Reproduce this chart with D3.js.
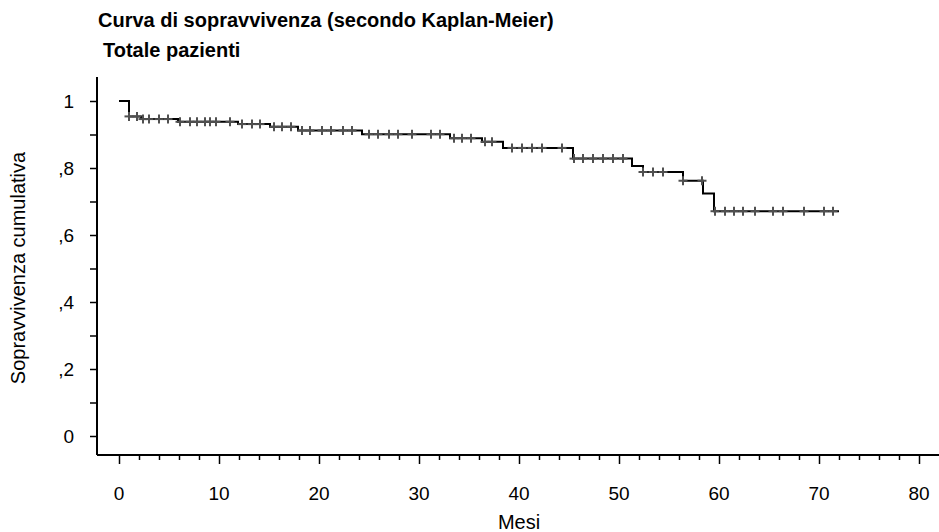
<html>
<head>
<meta charset="utf-8">
<title>Curva di sopravvivenza</title>
<style>
  body { margin: 0; background: #fff; }
  text { font-family: "Liberation Sans", Arial, sans-serif; fill: #000; }
</style>
</head>
<body>
<script src="https://cdn.jsdelivr.net/npm/d3@7/dist/d3.min.js"></script>
<script>
    // tempi degli eventi (mesi) e sopravvivenza dopo ogni evento
    var stepTimes = [0, 1.0, 2.2, 5.9, 11.9, 15.1, 17.9, 24.3, 33.1, 36.3, 38.4, 45.4, 51.3, 52.4, 56.4, 58.4, 59.5, 72.0];
    var stepSurv  = [1, 0.954, 0.946, 0.938, 0.931, 0.923, 0.912, 0.901, 0.889, 0.878, 0.860, 0.828, 0.806, 0.788, 0.762, 0.724, 0.671, 0.671];
    // casi censurati (mesi)
    var censorTimes = [1.0, 1.8, 2.4, 3.0, 4.0, 4.9, 6.1, 7.1, 7.8, 8.6, 9.1, 9.7, 11.1, 12.3, 13.3, 14.1,
        15.5, 16.3, 17.2, 18.3, 19.1, 20.3, 21.2, 22.4, 23.3, 25.0, 25.9, 27.0, 27.9, 29.3, 31.2, 32.1,
        33.5, 34.3, 35.2, 36.6, 37.3, 39.3, 40.3, 41.3, 42.3, 44.3, 45.5, 46.4, 47.4, 48.4, 49.4, 50.4,
        52.4, 53.4, 54.4, 56.4, 58.3, 59.6, 60.6, 61.5, 62.4, 63.6, 65.4, 66.4, 68.5, 70.5, 71.4];
    var xTicks = [0, 10, 20, 30, 40, 50, 60, 70, 80];
    var yTicks = [0, 0.2, 0.4, 0.6, 0.8, 1];
    var yTickLabels = ["0", ",2", ",4", ",6", ",8", "1"];

    var width = 939, height = 532;
    var svg = d3.select('body').append('svg')
        .attr('width', width).attr('height', height);

    var xScale = d3.scaleLinear().domain([0, 80]).range([119, 919]);
    var yScale = d3.scaleLinear().domain([0, 1]).range([436, 101]);
    var axisX = 97, axisY = 455;

    // titoli
    svg.append('text').attr('x', 98).attr('y', 27)
        .style('font-size', '20px').style('font-weight', 'bold')
        .text('Curva di sopravvivenza (secondo Kaplan-Meier)');
    svg.append('text').attr('x', 103).attr('y', 57)
        .style('font-size', '20px').style('font-weight', 'bold')
        .text('Totale pazienti');

    // asse y
    var yAxis = d3.axisLeft(yScale)
        .tickValues(d3.range(0, 1.01, 0.1))
        .tickSize(0)
        .tickFormat('');
    var gy = svg.append('g').attr('transform', 'translate(' + axisX + ',0)').call(yAxis);
    gy.select('.domain').remove();
    gy.selectAll('.tick line').attr('x2', -7).attr('stroke', '#000').attr('stroke-width', 1.5);
    svg.append('line').attr('x1', axisX).attr('x2', axisX)
        .attr('y1', 77).attr('y2', axisY).attr('stroke', '#000').attr('stroke-width', 2);
    svg.selectAll('.ylab').data(yTicks).enter().append('text')
        .attr('class', 'ylab')
        .attr('x', 74).attr('y', function(d) { return yScale(d) + 7; })
        .attr('text-anchor', 'end')
        .style('font-size', '19px')
        .text(function(d, i) { return yTickLabels[i]; });

    // asse x
    var xAxis = d3.axisBottom(xScale)
        .tickValues(d3.range(0, 80.1, 2))
        .tickSize(0)
        .tickFormat('');
    var gx = svg.append('g').attr('transform', 'translate(0,' + axisY + ')').call(xAxis);
    gx.select('.domain').remove();
    gx.selectAll('.tick line')
        .attr('y2', function(d) { return d % 10 === 0 ? 9 : 5; })
        .attr('stroke', '#000').attr('stroke-width', 1.5);
    svg.append('line').attr('x1', axisX).attr('x2', width)
        .attr('y1', axisY).attr('y2', axisY).attr('stroke', '#000').attr('stroke-width', 2);
    svg.selectAll('.xlab').data(xTicks).enter().append('text')
        .attr('class', 'xlab')
        .attr('x', function(d) { return xScale(d); }).attr('y', 500)
        .attr('text-anchor', 'middle')
        .style('font-size', '19px')
        .text(function(d) { return d; });

    // etichette assi
    svg.append('text').attr('x', 519).attr('y', 529)
        .attr('text-anchor', 'middle').style('font-size', '20px').text('Mesi');
    svg.append('text')
        .attr('transform', 'translate(25,268) rotate(-90)')
        .attr('text-anchor', 'middle').style('font-size', '20px')
        .text('Sopravvivenza cumulativa');

    // curva
    var points = stepTimes.map(function(t, i) { return [t, stepSurv[i]]; });
    var line = d3.line()
        .x(function(d) { return xScale(d[0]); })
        .y(function(d) { return yScale(d[1]); })
        .curve(d3.curveStepAfter);
    svg.append('path').datum(points)
        .attr('d', line)
        .attr('fill', 'none').attr('stroke', '#000').attr('stroke-width', 2);

    function survAt(t) {
        var s = stepSurv[0];
        for (var i = 0; i < stepTimes.length; i++) {
            if (stepTimes[i] <= t) s = stepSurv[i];
        }
        return s;
    }

    // segni di censura
    var cs = 4.5;
    var cens = svg.selectAll('.cens').data(censorTimes).enter().append('g')
        .attr('class', 'cens')
        .attr('transform', function(d) {
            return 'translate(' + xScale(d) + ',' + yScale(survAt(d)) + ')';
        });
    cens.append('line').attr('x1', -cs).attr('x2', cs).attr('y1', 0).attr('y2', 0)
        .attr('stroke', '#505050').attr('stroke-width', 2);
    cens.append('line').attr('x1', 0).attr('x2', 0).attr('y1', -cs).attr('y2', cs)
        .attr('stroke', '#505050').attr('stroke-width', 2);
</script>
</body>
</html>
